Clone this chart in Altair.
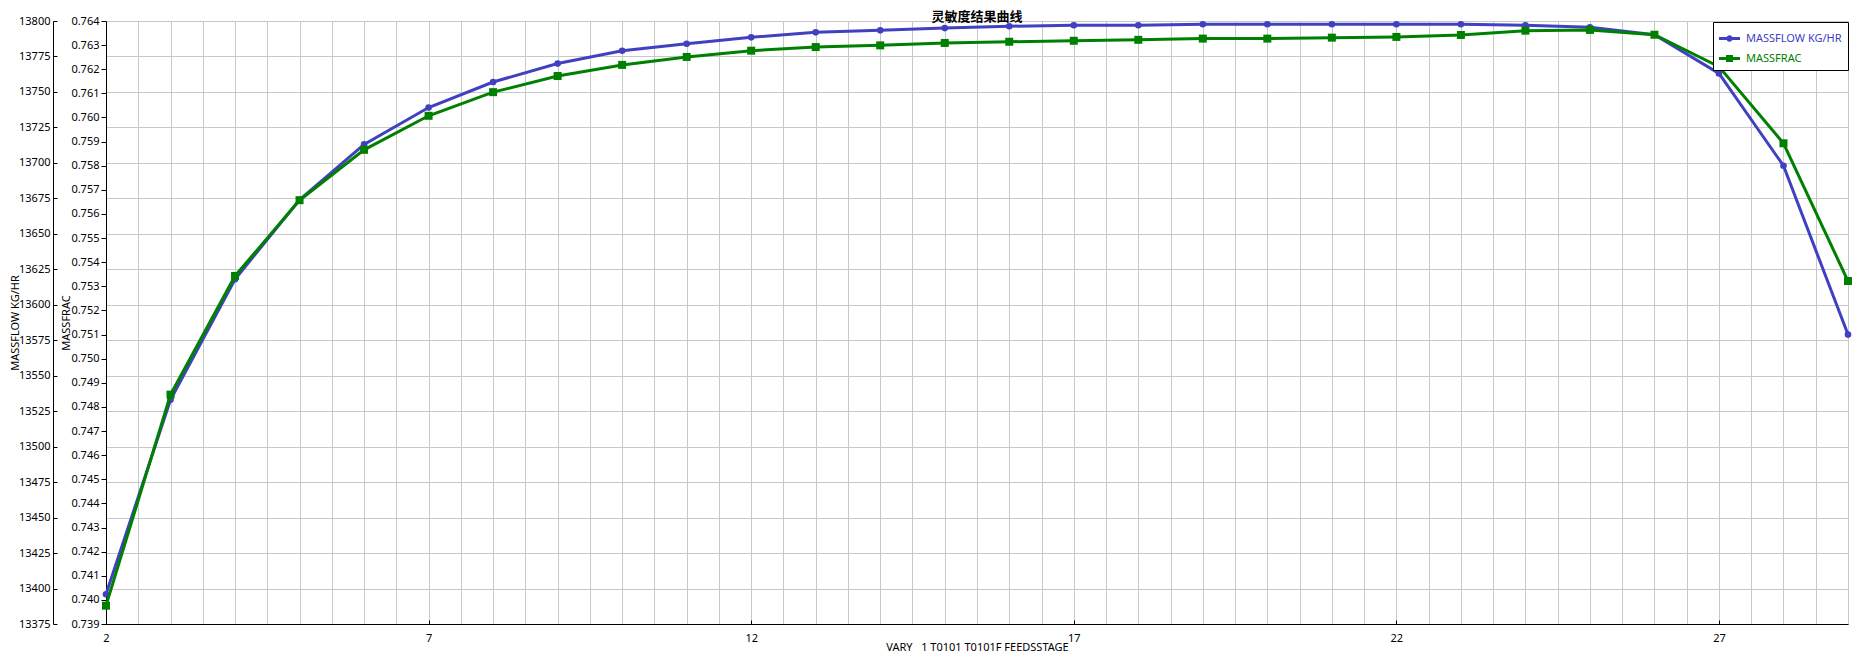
import altair as alt
import pandas as pd

# ---------------- data ----------------
stages = list(range(2, 30))
massflow = [13396, 13533, 13618, 13674, 13713, 13739, 13757, 13770, 13779, 13784,
            13788.5, 13792, 13793.4, 13795, 13796.3, 13797, 13797, 13797.7, 13797.7, 13797.7,
            13797.7, 13797.7, 13797, 13795.6, 13790.3, 13763, 13698, 13579]
massfrac = [0.73976, 0.74851, 0.75343, 0.75657, 0.75866, 0.76007, 0.76105, 0.76172, 0.76218, 0.76251,
            0.76277, 0.76292, 0.76299, 0.76309, 0.76314, 0.76318, 0.76322, 0.76327, 0.76327, 0.76331,
            0.76334, 0.76342, 0.76360, 0.76363, 0.76343, 0.76211, 0.75893, 0.75322]
series_names = ["MASSFLOW KG/HR", "MASSFRAC"]
series_colors = ["#4040C0", "#008000"]
x_label_values = [2, 7, 12, 17, 22, 27]
x_grid_values = [2 + 0.5 * i for i in range(55)]
flow_ticks = list(range(13375, 13801, 25))
frac_ticks = [round(0.739 + 0.001 * i, 3) for i in range(26)]

df = pd.DataFrame({"stage": stages, "massflow": massflow, "massfrac": massfrac})

FONT = "Noto Sans"
BLUE, GREEN = series_colors
GRID = "#C8C8C8"

x_scale = alt.Scale(domain=[2, 29], nice=False, zero=False)
flow_scale = alt.Scale(domain=[13375, 13800], nice=False, zero=False)
frac_scale = alt.Scale(domain=[0.739, 0.764], nice=False, zero=False)

common = dict(labelFont=FONT, labelFontSize=11, labelColor="black",
              titleFont=FONT, titleFontSize=11, titleFontWeight="normal", titleColor="black",
              domainColor="black", domainWidth=1, tickColor="black", tickWidth=1,
              labelFlush=False, labelOverlap=False)

x_main_axis = alt.Axis(orient="bottom", offset=0, values=x_grid_values,
                       labelExpr="((datum.value - 2) % 5 == 0) ? format(datum.value, 'd') : ''",
                       ticks=False, tickSize=0, labelPadding=8,
                       grid=True, gridColor=GRID, gridWidth=1,
                       title="VARY\u00a0\u00a0\u00a01 T0101 T0101F FEEDSSTAGE",
                       titleBaseline="alphabetic", titleY=26, **common)
x_tick_axis = alt.Axis(orient="bottom", offset=-4, values=x_label_values, ticks=True, tickSize=4,
                       domain=False, labels=False, grid=False, title=None, tickColor="black")

flow_axis = alt.Axis(orient="left", offset=53, values=flow_ticks, format="d", ticks=False, tickSize=0,
                     labelPadding=3, grid=True, gridColor=GRID, gridWidth=1,
                     title="MASSFLOW KG/HR", titleAngle=-90, titleAlign="center",
                     titleBaseline="middle", titleX=-38, titleY=301.5, **common)
flow_tick_axis = alt.Axis(orient="left", offset=49, values=flow_ticks, ticks=True, tickSize=4,
                          domain=False, labels=False, grid=False, title=None, tickColor="black")
frac_axis = alt.Axis(orient="left", offset=0, values=frac_ticks, format=".3f", ticks=True,
                     tickSize=5, labelPadding=2, grid=False,
                     title="MASSFRAC", titleAngle=-90, titleAlign="center",
                     titleBaseline="middle", titleX=-39.5, titleY=301.5, **common)

base = alt.Chart(df)

flow_layer = base.mark_line(
    color=BLUE, strokeWidth=3,
    point=alt.OverlayMarkDef(shape="circle", size=44, filled=True, color=BLUE, opacity=1),
).encode(
    x=alt.X("stage:Q", scale=x_scale, axis=x_main_axis),
    y=alt.Y("massflow:Q", scale=flow_scale, axis=flow_axis),
)

frac_layer = base.mark_line(
    color=GREEN, strokeWidth=3,
    point=alt.OverlayMarkDef(shape="square", size=64, filled=True, color=GREEN, opacity=1),
).encode(
    x=alt.X("stage:Q", scale=x_scale, axis=None),
    y=alt.Y("massfrac:Q", scale=frac_scale, axis=frac_axis),
)

tick_layer = base.mark_point(opacity=0).encode(
    x=alt.X("stage:Q", scale=x_scale, axis=x_tick_axis),
    y=alt.Y("massflow:Q", scale=flow_scale, axis=flow_tick_axis),
)

circle_sym = ("M-1,-0.143H1V0.143H-1Z "
              "M0.305,0A0.305,0.305,0,1,1,-0.305,0A0.305,0.305,0,1,1,0.305,0Z")
square_sym = "M-1,-0.143H1V0.143H-1Z M-0.333,-0.333H0.333V0.333H-0.333Z"

leg = alt.Legend(title=None, orient="none", legendX=1607, legendY=1, direction="vertical",
                 strokeColor="black", fillColor="white", padding=6, cornerRadius=0,
                 labelFont=FONT, labelFontSize=11,
                 labelColor={"expr": "datum.value == 'MASSFRAC' ? '#008000' : '#4040C0'"},
                 symbolSize=441, symbolStrokeWidth=0, labelOffset=6, rowPadding=4)

legend_layer = base.transform_calculate(series="'MASSFRAC'").transform_filter("false").mark_point(
    filled=True, opacity=1
).encode(
    color=alt.Color("series:N", scale=alt.Scale(domain=series_names, range=series_colors), legend=leg),
    shape=alt.Shape("series:N", scale=alt.Scale(domain=series_names, range=[circle_sym, square_sym]),
                    legend=leg),
)

chart = alt.layer(flow_layer, frac_layer, tick_layer, legend_layer).resolve_scale(
    y="independent"
).resolve_axis(
    x="independent", y="independent"
).properties(
    width=1742, height=603,
    autosize=alt.AutoSizeParams(type="none"),
    padding={"left": 98, "top": 13, "right": 5, "bottom": 29},
    title=alt.TitleParams(text="灵敏度结果曲线", font="Noto Sans CJK SC", fontSize=13,
                          fontWeight="bold", anchor="middle", offset=-9, color="black"),
).configure_view(stroke=None).configure(background="white")

chart.save("out.html", embed_options={"renderer": "svg", "actions": False})
